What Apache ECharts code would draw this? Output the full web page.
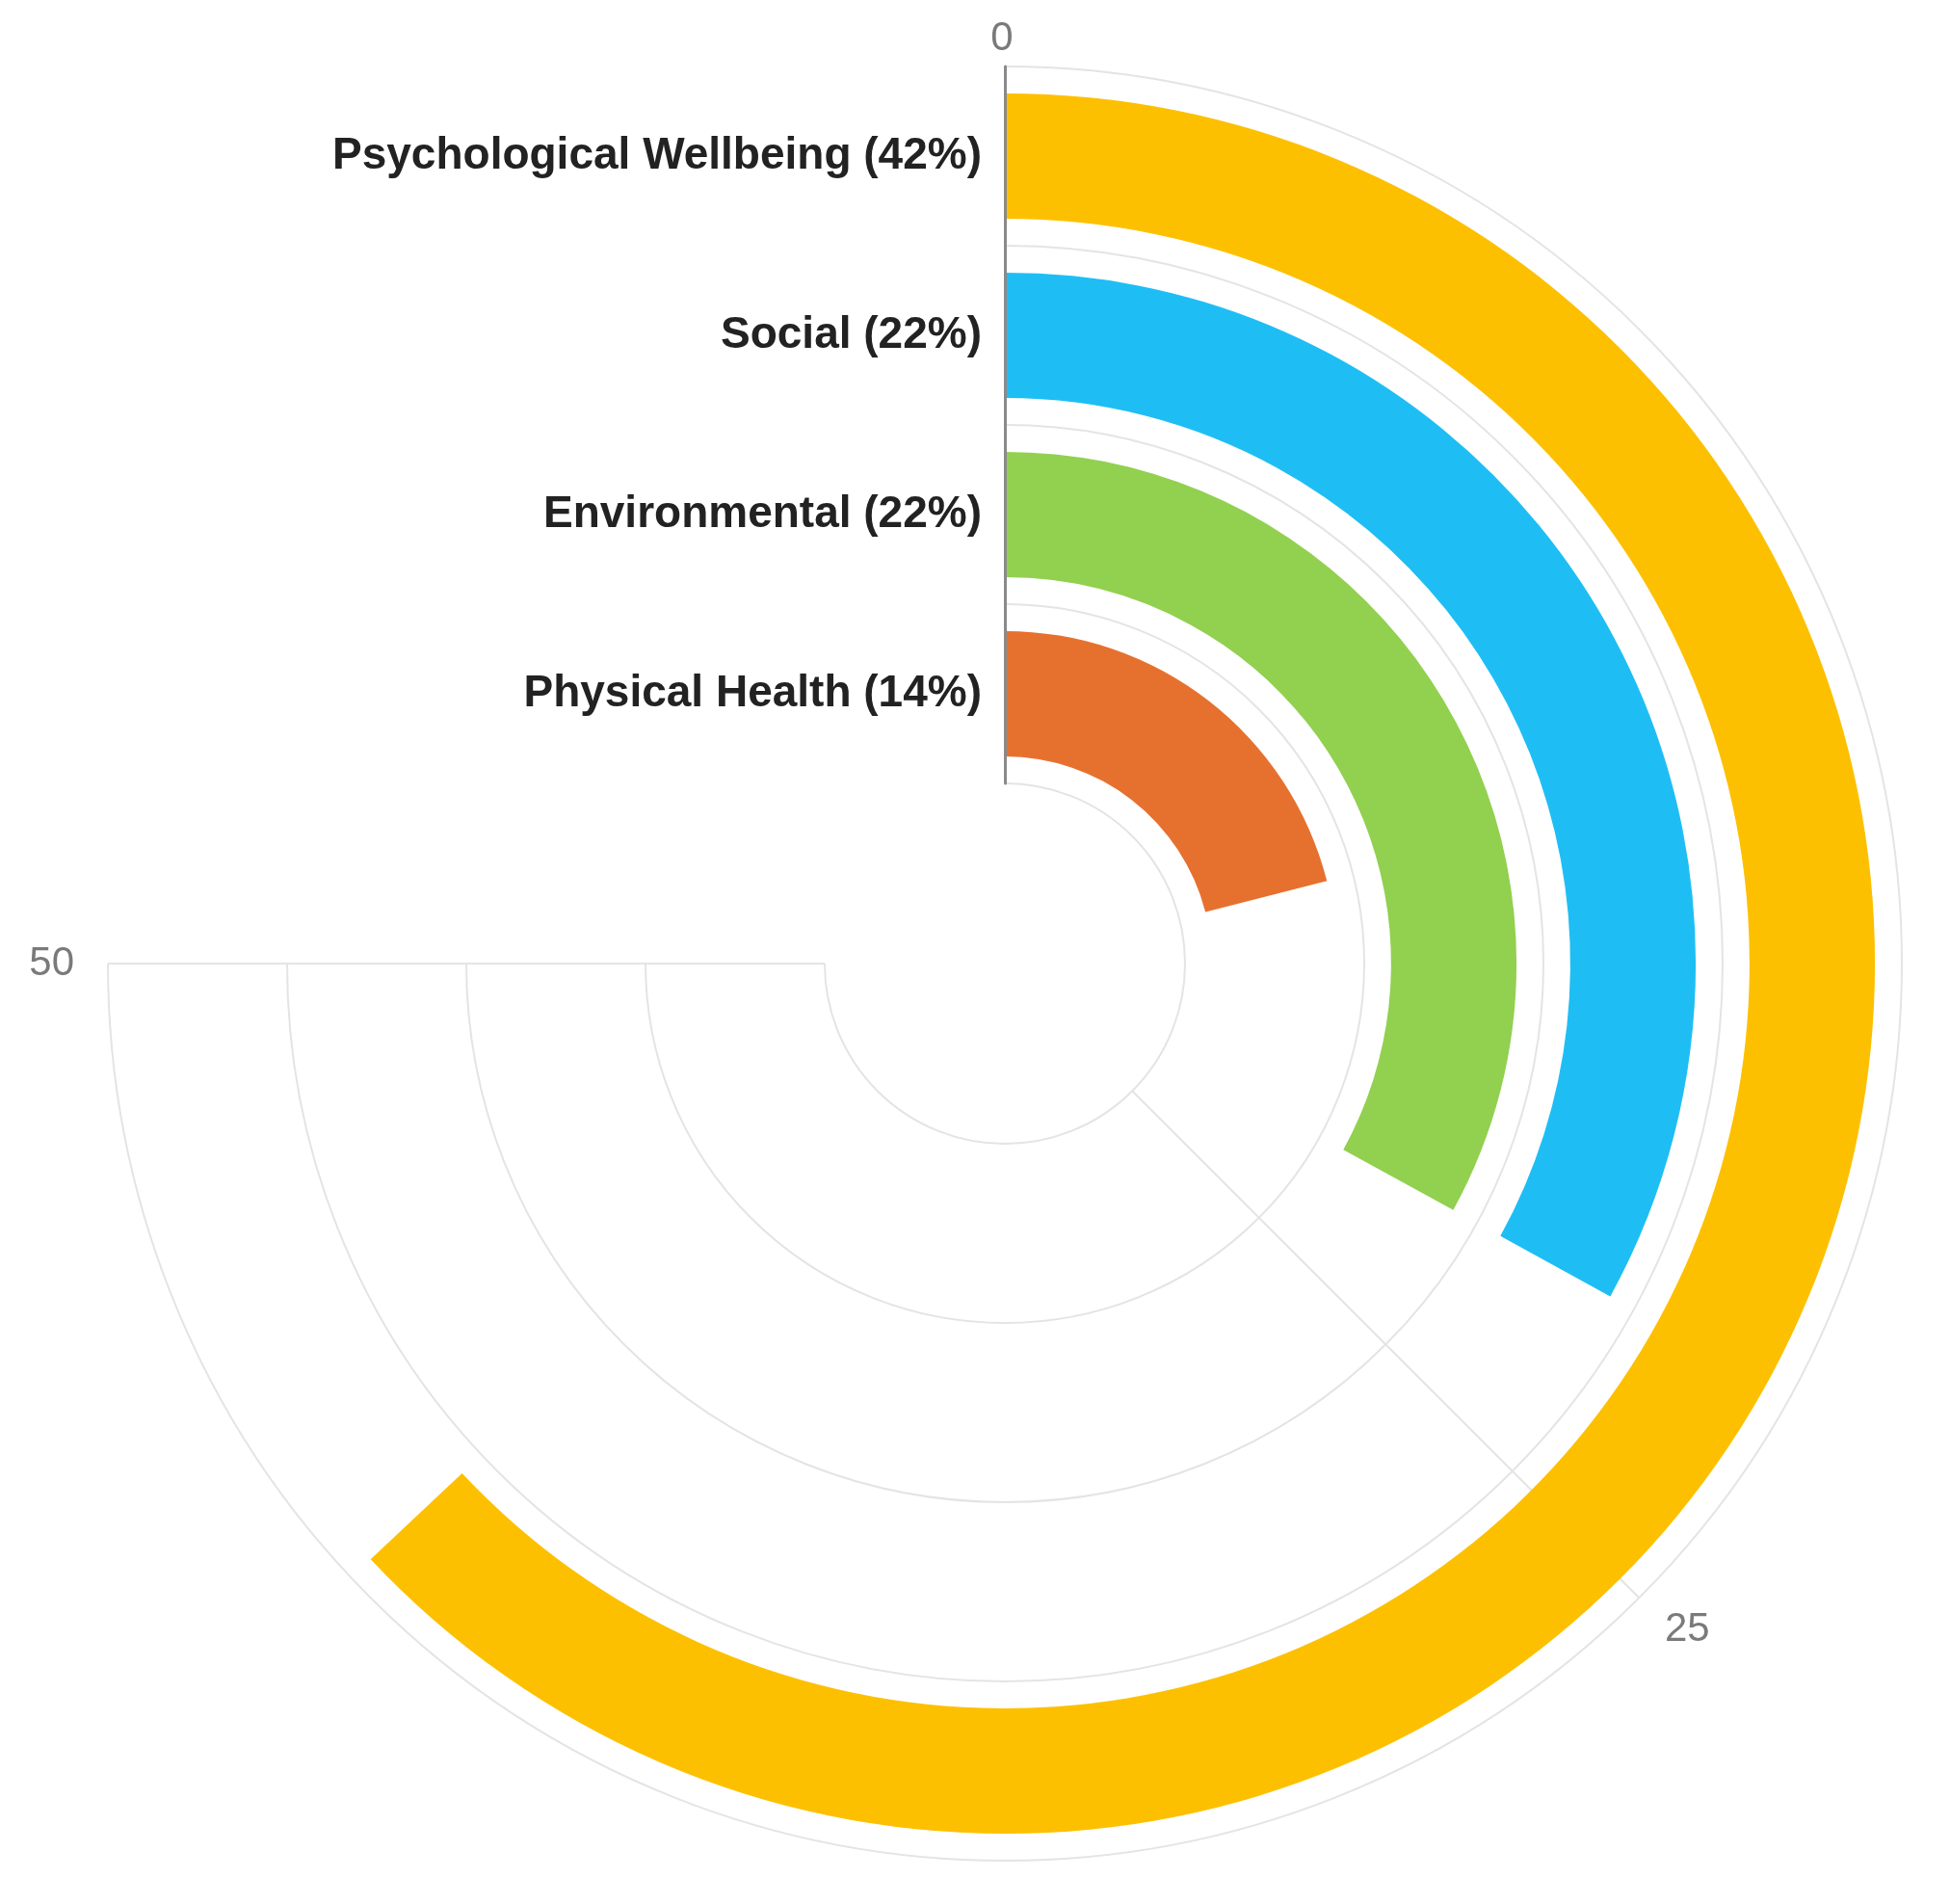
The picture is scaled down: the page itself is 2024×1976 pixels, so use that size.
<!DOCTYPE html>
<html>
<head>
<meta charset="utf-8">
<title>Radial bar</title>
<script src="https://cdn.jsdelivr.net/npm/echarts@6/dist/echarts.min.js"></script>
<style>
  html, body { margin: 0; padding: 0; background: #fff; }
  #chart { width: 2024px; height: 1976px; }
</style>
</head>
<body>
<div id="chart"></div>
<script>
  // categories go from the inner ring outwards
  var categories = ['Physical Health (14%)', 'Environmental (22%)', 'Social (22%)', 'Psychological Wellbeing (42%)'];
  var values = [14, 22, 22, 42];
  var colors = ['#E6712F', '#92D050', '#1EBEF4', '#FDC000'];
  var angleTicks = [0, 25, 50];

  var chart = echarts.init(document.getElementById('chart'));
  chart.setOption({
    animation: false,
    textStyle: { fontFamily: 'Liberation Sans, Arial, sans-serif' },
    polar: {
      center: [1043, 1000],
      radius: [187, 931]
    },
    angleAxis: {
      type: 'value',
      startAngle: 90,
      endAngle: -180,
      min: angleTicks[0],
      max: angleTicks[angleTicks.length - 1],
      interval: angleTicks[1] - angleTicks[0],
      axisLine: { show: false },
      axisTick: { show: false },
      axisLabel: {
        margin: 8,
        // padding pushes the side labels a little further out
        padding: [6, 27, 0, 21],
        fontSize: 42,
        color: '#7a7a7a'
      },
      splitLine: {
        show: true,
        lineStyle: { color: '#e4e4e4', width: 2 }
      }
    },
    radiusAxis: {
      type: 'category',
      data: categories,
      axisLine: { show: true, lineStyle: { color: '#8a8a8a', width: 3 } },
      axisTick: { show: false },
      axisLabel: {
        interval: 0,
        margin: 24,
        fontSize: 46,
        fontWeight: 'bold',
        color: '#222'
      },
      splitLine: {
        show: true,
        interval: 0,
        lineStyle: { color: '#e4e4e4', width: 2 }
      },
      z: 10
    },
    series: [{
      type: 'bar',
      coordinateSystem: 'polar',
      barWidth: '70%',
      data: values.map(function (v, i) {
        return { value: v, itemStyle: { color: colors[i] } };
      })
    }]
  });
</script>
</body>
</html>
